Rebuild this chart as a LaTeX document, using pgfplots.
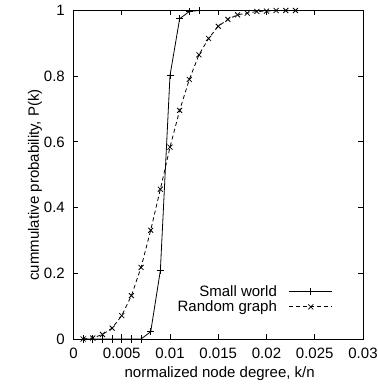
\documentclass[border=0pt]{standalone}
\usepackage{pgfplots}
\pgfplotsset{compat=1.18}
\usepackage{fontspec}
\setmainfont{Liberation Sans}
\newcommand{\f}{\fontsize{15bp}{15bp}\selectfont}
\begin{document}
\begin{tikzpicture}[x=1bp,y=1bp]
\useasboundingbox (0,0) rectangle (378,387);
\begin{axis}[
  at={(73.5bp,48bp)}, anchor=south west,
  width=289.5bp, height=328.5bp, scale only axis,
  xmin=0, xmax=0.03, ymin=0, ymax=1,
  clip=false,
  axis line style={line width=0.8bp},
  every tick/.style={black, line width=0.8bp},
  tick align=inside, major tick length=5bp,
  xtick={0,0.005,0.01,0.015,0.02,0.025,0.03},
  xticklabels={0,0.005,0.01,0.015,0.02,0.025,0.03},
  ytick={0,0.2,0.4,0.6,0.8,1},
  yticklabels={0,0.2,0.4,0.6,0.8,1},
  scaled x ticks=false, scaled y ticks=false,
  xticklabel style={font=\f, anchor=base, yshift=-19.3bp, inner sep=0pt},
  yticklabel style={font=\f, anchor=east, xshift=-8.5bp, inner sep=0pt},
  xlabel={normalized node degree, k/n},
  ylabel={cummulative probability, P(k)},
  xlabel style={font=\f, at={(axis description cs:0.505,-0.1187)}, anchor=base},
  ylabel style={font=\f, at={(axis description cs:-0.1192,0.469)}, anchor=base},
  legend cell align=right,
  legend plot pos=right,
  legend style={at={(axis description cs:0.896,0.170)}, anchor=north east,
    draw=none, fill=none, inner sep=0pt, row sep=-1bp, column sep=10bp, font=\f},
  legend image code/.code={\draw[mark repeat=2,mark phase=2,#1] plot coordinates {(0bp,0bp)(21.5bp,0bp)(43bp,0bp)};},
]
\addplot[black, line width=0.8bp, mark=+, mark size=3.5bp, mark options={solid}] coordinates {
(0.001,0)(0.002,0)(0.003,0)(0.004,0)(0.005,0)(0.006,0)(0.007,0)(0.008,0.022)(0.009,0.208)(0.010,0.802)(0.011,0.975)(0.012,0.997)(0.013,1.0)
};
\addlegendentry{Small world}
\addplot[black, line width=0.8bp, dash pattern=on 4bp off 3bp, mark=x, mark size=3.5bp, mark options={solid}] coordinates {
(0.001,0)(0.002,0.003)(0.003,0.014)(0.004,0.033)(0.005,0.071)(0.006,0.132)(0.007,0.218)(0.008,0.331)(0.009,0.456)(0.010,0.584)(0.011,0.696)(0.012,0.790)(0.013,0.865)(0.014,0.915)(0.015,0.952)(0.016,0.973)(0.017,0.987)(0.018,0.992)(0.019,0.997)(0.020,0.998)(0.021,1)(0.022,1)(0.023,1)
};
\addlegendentry{Random graph}
\end{axis}
\end{tikzpicture}
\end{document}
